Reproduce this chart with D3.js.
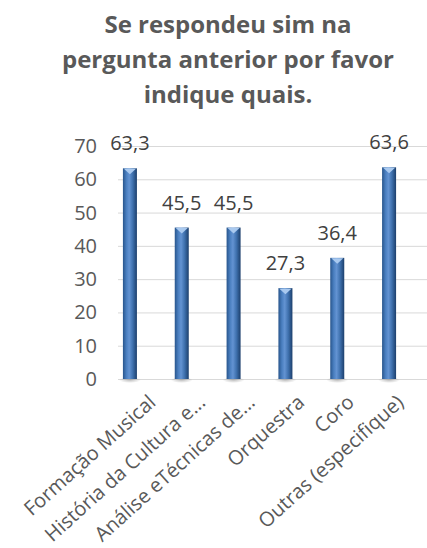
<!DOCTYPE html>
<html><head><meta charset="utf-8">
<script src="https://cdn.jsdelivr.net/npm/d3@7"></script>
<style>html,body{margin:0;padding:0;background:#fff;}svg{display:block;}</style>
</head><body>
<svg id="chart" width="427" height="548"></svg>
<script>
const titleLines = ["Se respondeu sim na", "pergunta anterior por favor", "indique quais."];
const categories = ["Formação Musical", "História da Cultura e...", "Análise eTécnicas de...", "Orquestra", "Coro", "Outras (especifique)"];
const values = [63.3, 45.5, 45.5, 27.3, 36.4, 63.6];
const valueLabels = ["63,3", "45,5", "45,5", "27,3", "36,4", "63,6"];
const yTicks = [0, 10, 20, 30, 40, 50, 60, 70];

const svg = d3.select("#chart");
const font = "'Open Sans', sans-serif";

const x = d3.scaleBand().domain(categories).range([104, 415]);
const xLabel = d3.scalePoint().domain(categories).range([157, 405]);
const y = d3.scaleLinear().domain([0, 70]).range([379, 146]);
const gridLeft = 118, gridRight = 427;
const barW = 14;

const defs = svg.append("defs");
const grad = defs.append("linearGradient").attr("id", "barGrad").attr("x1", "0").attr("x2", "1").attr("y1", "0").attr("y2", "0");
[[0, "#28558c"], [0.25, "#4a7fc0"], [0.45, "#6393d2"], [0.7, "#3f71ae"], [1, "#1c3f6c"]].forEach(([o, c]) =>
  grad.append("stop").attr("offset", o).attr("stop-color", c));
const sh = defs.append("radialGradient").attr("id", "shadow");
sh.append("stop").attr("offset", 0).attr("stop-color", "#000").attr("stop-opacity", 0.25);
sh.append("stop").attr("offset", 1).attr("stop-color", "#000").attr("stop-opacity", 0);

// title
svg.append("g").selectAll("text").data(titleLines).join("text")
  .attr("x", 228).attr("y", (d, i) => 33 + i * 35)
  .attr("text-anchor", "middle").attr("font-family", font).attr("font-weight", "bold")
  .attr("font-size", 24).attr("fill", "#595959").text(d => d);

// gridlines
svg.append("g").selectAll("line").data(yTicks).join("line")
  .attr("x1", gridLeft).attr("x2", gridRight)
  .attr("y1", d => y(d) + 0.5).attr("y2", d => y(d) + 0.5)
  .attr("stroke", "#d9d9d9").attr("stroke-width", 1);

// y tick labels
svg.append("g").selectAll("text").data(yTicks).join("text")
  .attr("x", 97).attr("y", d => y(d)).attr("dy", "0.35em")
  .attr("text-anchor", "end").attr("font-family", font).attr("font-size", 20)
  .attr("fill", "#595959").text(d => d);

const cx = d => x(d) + x.bandwidth() / 2;

// shadows
svg.append("g").selectAll("ellipse").data(categories).join("ellipse")
  .attr("cx", d => cx(d)).attr("cy", y(0) + 1).attr("rx", 11).attr("ry", 3)
  .attr("fill", "url(#shadow)");

// bars
const data = categories.map((c, i) => ({c, v: values[i], l: valueLabels[i]}));
svg.append("g").selectAll("rect").data(data).join("rect")
  .attr("x", d => cx(d.c) - barW / 2).attr("width", barW)
  .attr("y", d => y(d.v)).attr("height", d => y(0) - y(d.v))
  .attr("fill", "url(#barGrad)");
// top caps
svg.append("g").selectAll("path").data(data).join("path")
  .attr("d", d => {
    const c = cx(d.c), t = y(d.v);
    return `M${c - barW / 2 + 1},${t + 0.5} L${c + barW / 2 - 1},${t + 0.5} L${c},${t + 6} Z`;
  })
  .attr("fill", "#a9c9ef");

// value labels
svg.append("g").selectAll("text").data(data).join("text")
  .attr("x", d => cx(d.c)).attr("y", d => y(d.v) - 18)
  .attr("text-anchor", "middle").attr("font-family", font).attr("font-size", 20)
  .attr("fill", "#404040").text(d => d.l);

// category labels
svg.append("g").selectAll("text").data(categories).join("text")
  .attr("transform", d => `translate(${xLabel(d)},${y(0) + 25}) rotate(-42)`)
  .attr("text-anchor", "end").attr("font-family", font).attr("font-size", 20)
  .attr("fill", "#595959").text(d => d);
</script>
</body></html>
